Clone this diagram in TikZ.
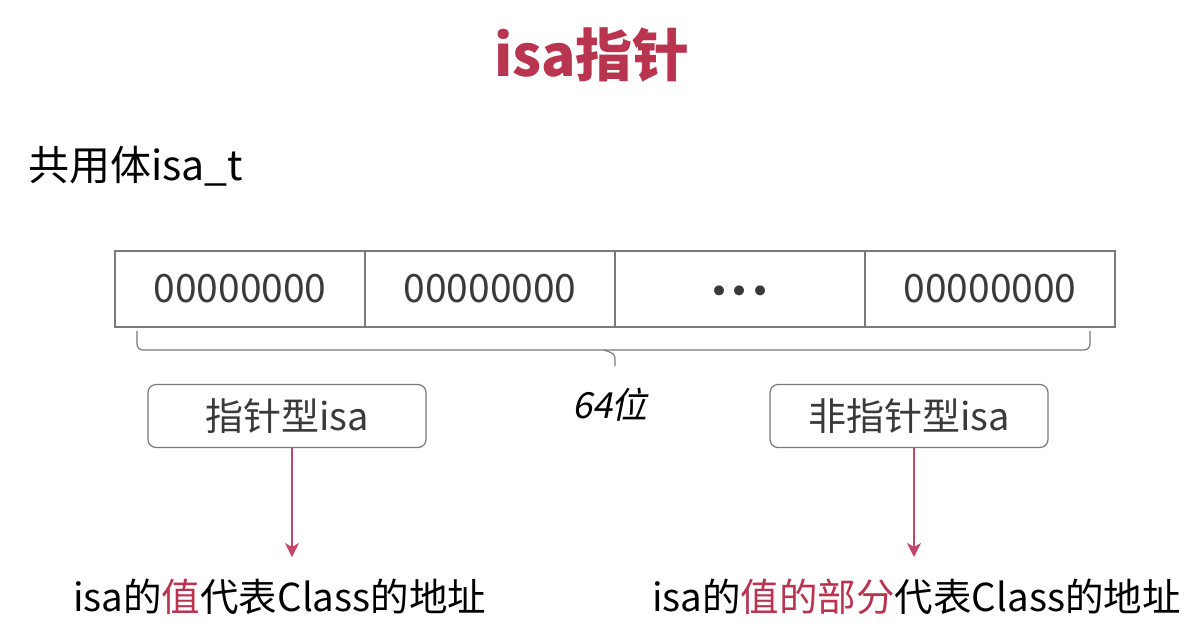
\documentclass[tikz,border=0pt]{standalone}
\usepackage{fontspec}
\setmainfont{Noto Sans CJK SC}
\newfontfamily\slantcjk[FakeSlant=0.2]{Noto Sans CJK SC}
\newfontfamily\dotfont{DejaVu Sans}
\usetikzlibrary{arrows.meta,positioning}
\definecolor{isared}{HTML}{B8344F}
\definecolor{arrowred}{HTML}{C2466A}
\definecolor{linegray}{HTML}{7A7A7A}
\definecolor{textgray}{HTML}{3A3A3A}
\tikzset{
  cell/.style={draw=linegray,line width=1.2pt,minimum width=250pt,minimum height=76pt,inner sep=0pt,
    font=\fontsize{39}{42}\selectfont,text=textgray},
  kindbox/.style={draw=linegray,line width=1.2pt,rounded corners=8pt,minimum width=278pt,minimum height=63pt,
    inner sep=0pt,font=\fontsize{38}{42}\selectfont,text=textgray},
  toarrow/.style={draw=arrowred,line width=1.2pt,-{Stealth[length=14pt,width=14pt,inset=4pt]}},
  note/.style={anchor=west,inner sep=0pt,font=\fontsize{38.5}{43}\selectfont},
}
\newcommand{\bitcell}[4]{\node[cell] (#1) at (#2,#3) {#4};}
\newcommand{\kind}[4]{\node[kindbox] (#1) at (#2,#3) {#4};}

\begin{document}
\begin{tikzpicture}[x=1pt,y=-1pt]
    \useasboundingbox[fill=white] (0,0) rectangle (1200,625);
    \node[text=isared,font=\fontsize{57}{60}\selectfont\bfseries] (title) at (592,55) {isa指针};
    \node[note,font=\fontsize{41}{44}\selectfont] (union) at (28,166) {共用体isa\_t};
    \bitcell{b1}{240}{289}{00000000}    \bitcell{b2}{490}{289}{00000000}
    \bitcell{b3}{740}{289}{\raisebox{-14pt}[0pt][0pt]{\dotfont\fontsize{34}{38}\selectfont •••}}    \bitcell{b4}{990}{289}{00000000}
    % brace under the 64 bits
    \coordinate (brL) at (137,331); \coordinate (brR) at (1090,331);
    \coordinate (brM) at (615,366);
    \draw[linegray,line width=1.2pt,rounded corners=6pt] (brL) -- (137,350) -- (1090,350) -- (brR);
    \draw[linegray,line width=1.2pt,rounded corners=4pt] (604,350) -- (615,354) -- (brM);
    \node[font=\fontsize{36}{40}\selectfont\slantcjk,text=black] (bits) at (610,405) {64位};
    \kind{ptr}{287}{416}{指针型isa}
    \kind{nonptr}{909}{416}{非指针型isa}
    \coordinate (ptrEnd) at (292,557); \coordinate (nonptrEnd) at (914,557);
    \draw[toarrow] (ptr.south -| ptrEnd) -- (ptrEnd);
    \draw[toarrow] (nonptr.south -| nonptrEnd) -- (nonptrEnd);
    \node[note] (ptrNote) at (73,597) {isa的\textcolor{isared}{值}代表Class的地址};
    \node[note] (nonptrNote) at (652,597) {isa的\textcolor{isared}{值的部分}代表Class的地址};
\end{tikzpicture}
\end{document}
